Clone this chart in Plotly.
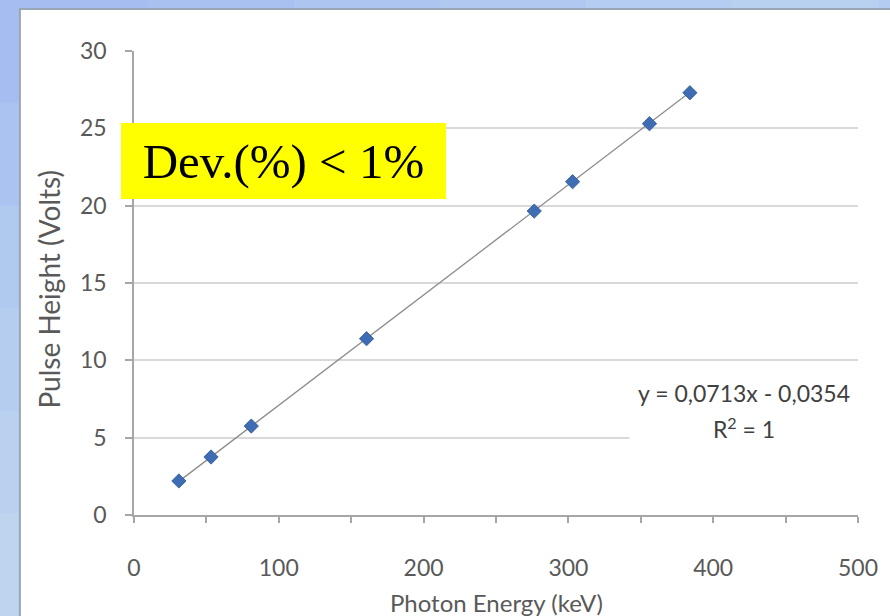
import plotly.graph_objects as go

# Ba-133 calibration lines: photon energy (keV) vs measured pulse height (V)
energy_kev = [31.0, 53.2, 81.0, 160.6, 276.4, 302.9, 356.0, 383.9]
pulse_height_v = [2.2, 3.75, 5.75, 11.4, 19.65, 21.55, 25.3, 27.3]

# Linear trendline as stated on the chart
fit_slope = 0.0713
fit_intercept = -0.0354
fit_label = "y = 0,0713x - 0,0354"
r2_label = "R<sup>2</sup> = 1"

x_ticks = [0, 100, 200, 300, 400, 500]
y_ticks = [0, 5, 10, 15, 20, 25, 30]

W, H = 890, 616
ML, MR, MT, MB = 134, 20, 51, 101
PW, PH = W - ML - MR, H - MT - MB


def px(x):
    return (x - ML) / PW


def py(y):
    return (H - MB - y) / PH


FONT = "Lato, 'Open Sans', sans-serif"
TICK_COLOR = "#595959"

fig = go.Figure()

trend_x = [min(energy_kev), max(energy_kev)]
trend_y = [fit_slope * v + fit_intercept for v in trend_x]
fig.add_trace(go.Scatter(
    x=trend_x, y=trend_y, mode="lines",
    line=dict(color="#8c8c8c", width=1.3),
    hoverinfo="skip", showlegend=False,
))
fig.add_trace(go.Scatter(
    x=energy_kev, y=pulse_height_v, mode="markers",
    marker=dict(symbol="diamond", size=11, color="#3f6db3",
                line=dict(color="#2f5796", width=0.8)),
    showlegend=False,
))

shapes = []
# Slide-like blue backdrop with a soft gradient along the top and left strips
top_colors = ["#a6bdf1", "#a9c1f1", "#adc5f1", "#b1c9f1", "#b5cdf1", "#b9d1f0"]
n = len(top_colors)
for i, c in enumerate(top_colors):
    shapes.append(dict(type="rect", xref="paper", yref="paper",
                       x0=px(W * i / n), x1=px(W * (i + 1) / n + 1),
                       y0=py(12), y1=py(0), fillcolor=c, line_width=0, layer="below"))
left_colors = ["#a6bdf1", "#abc3f0", "#b0c9ef", "#b5cdef", "#b9d1ee", "#bdd5ee"]
m = len(left_colors)
for i, c in enumerate(left_colors):
    shapes.append(dict(type="rect", xref="paper", yref="paper",
                       x0=px(-5), x1=px(19),
                       y0=py(H * (i + 1) / m + 1), y1=py(H * i / m),
                       fillcolor=c, line_width=0, layer="below"))
# White chart panel with a thin shadowed edge
shapes.append(dict(type="rect", xref="paper", yref="paper",
                   x0=px(18), x1=px(W + 20), y0=py(H + 5), y1=py(9),
                   fillcolor="white", line=dict(color="#98a6b8", width=2),
                   layer="below"))

annotations = [
    dict(text="Dev.(%) < 1%", xref="x", yref="y",
         x=103.0, y=22.88, xanchor="center", yanchor="middle",
         showarrow=False, bgcolor="#ffff00", width=325, height=76,
         borderpad=0, borderwidth=0,
         font=dict(family="'Liberation Serif', 'DejaVu Serif', serif",
                   size=49, color="black")),
    dict(text=fit_label, xref="x", yref="y",
         x=421, y=7.9, xanchor="center", yanchor="middle",
         showarrow=False, bgcolor="white", width=228, height=38,
         borderpad=0, font=dict(family=FONT, size=23, color="#404040")),
    dict(text=r2_label, xref="x", yref="y",
         x=421, y=5.65, xanchor="center", yanchor="middle",
         showarrow=False, bgcolor="white", width=228, height=34,
         borderpad=0, font=dict(family=FONT, size=23, color="#404040")),
    dict(text="Photon Energy (keV)", xref="x", yref="paper",
         x=250, y=py(602), xanchor="center", yanchor="middle",
         showarrow=False, font=dict(family=FONT, size=24, color=TICK_COLOR)),
    dict(text="Pulse Height (Volts)", xref="paper", yref="y",
         x=px(48), y=14.6, xanchor="center", yanchor="middle",
         textangle=-90, showarrow=False,
         font=dict(family=FONT, size=28, color=TICK_COLOR)),
]

fig.update_layout(
    width=W, height=H,
    margin=dict(l=ML, r=MR, t=MT, b=MB, pad=0),
    paper_bgcolor="#b4ccf0", plot_bgcolor="white",
    shapes=shapes, annotations=annotations,
    showlegend=False,
    xaxis=dict(
        range=[0, 500], tickvals=x_ticks, ticktext=[str(v) for v in x_ticks],
        showgrid=False, zeroline=False,
        showline=True, linecolor="#a6a6a6", linewidth=1.5,
        ticks="outside", ticklen=6, tickcolor="#a6a6a6", tickwidth=1.5,
        minor=dict(dtick=50, tick0=0, ticks="outside", ticklen=6,
                   tickcolor="#a6a6a6", tickwidth=1.5, showgrid=False),
        ticklabelstandoff=26, ticklabeloverflow="allow",
        tickfont=dict(family=FONT, size=23, color=TICK_COLOR),
        fixedrange=True,
    ),
    yaxis=dict(
        range=[0, 30], tickvals=y_ticks, ticktext=[str(v) for v in y_ticks],
        showgrid=True, gridcolor="#d9d9d9", gridwidth=2, zeroline=False,
        showline=True, linecolor="#a6a6a6", linewidth=1.5,
        ticks="outside", ticklen=7, tickcolor="#a6a6a6", tickwidth=1.5,
        ticklabelstandoff=14,
        tickfont=dict(family=FONT, size=23, color=TICK_COLOR),
        fixedrange=True,
    ),
)

fig.write_html("out.html")
